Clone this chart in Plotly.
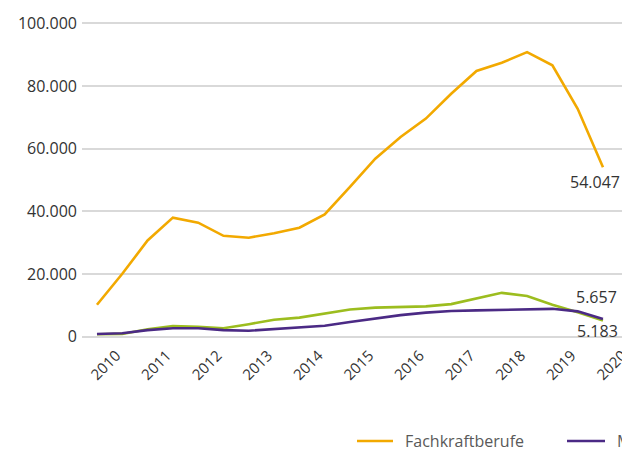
import plotly.graph_objects as go

# Halbjahreswerte, erster Punkt Mitte 2009, letzter Mitte 2019 (Achse 2010-2020)
perioden = [2009.5, 2010.0, 2010.5, 2011.0, 2011.5, 2012.0, 2012.5, 2013.0, 2013.5, 2014.0, 2014.5,
            2015.0, 2015.5, 2016.0, 2016.5, 2017.0, 2017.5, 2018.0, 2018.5, 2019.0, 2019.5]
jahre = [2010, 2011, 2012, 2013, 2014, 2015, 2016, 2017, 2018, 2019, 2020]

fachkraft = [10200, 20100, 30700, 38000, 36400, 32200, 31600, 33000, 34800, 39000, 47800,
             56800, 63700, 69600, 77500, 84800, 87400, 90800, 86600, 72700, 54047]
experten = [800, 900, 2400, 3400, 3200, 2700, 4000, 5400, 6100, 7300, 8700,
            9300, 9500, 9700, 10400, 12200, 14000, 13000, 10200, 7800, 5183]
meister = [850, 1100, 2100, 2700, 2700, 2100, 1900, 2400, 2900, 3500, 4700,
           5900, 6900, 7700, 8200, 8400, 8500, 8700, 8900, 8100, 5657]

namen = ["Fachkraftberufe", "Meister-/Technikerberufe", "Expertenberufe"]
farben = {"Fachkraftberufe": "#F2A900", "Meister-/Technikerberufe": "#4B2A85", "Expertenberufe": "#9CBD1F"}

fig = go.Figure()
fig.add_trace(go.Scatter(x=perioden, y=fachkraft, mode="lines", name=namen[0],
                         line=dict(color=farben[namen[0]], width=2.6), showlegend=False))
fig.add_trace(go.Scatter(x=perioden, y=experten, mode="lines", name=namen[2],
                         line=dict(color=farben[namen[2]], width=2.6), showlegend=False))
fig.add_trace(go.Scatter(x=perioden, y=meister, mode="lines", name=namen[1],
                         line=dict(color=farben[namen[1]], width=2.6), showlegend=False))


def fmt(v):
    return f"{v:,}".replace(",", ".")


# Endwerte beschriften
for serie, dx, dy in [(fachkraft, -8, -15), (meister, -6, 22), (experten, -5, -11)]:
    fig.add_annotation(x=perioden[-1], y=serie[-1], text=fmt(serie[-1]), showarrow=False,
                       xshift=dx, yshift=dy, font=dict(size=16, color="#333333"))

# Legende von Hand, weil sie rechts abgeschnitten ist
# (Seite hat 8px Rand, daher Figur 622x443 und Plot bei x=74..622)
for name, x0, x1 in [(namen[0], 357, 393), (namen[1], 567, 605)]:
    px0 = (x0 - 82) / 548
    px1 = (x1 - 82) / 548
    ly = (343 - 441) / 326
    fig.add_shape(type="line", xref="paper", yref="paper", x0=px0, x1=px1, y0=ly, y1=ly,
                  line=dict(color=farben[name], width=2.6))
    fig.add_annotation(xref="paper", yref="paper", x=px1 + 10 / 548, y=ly, xanchor="left",
                       yanchor="middle", text=name, showarrow=False,
                       font=dict(size=16, color="#595959"))

fig.update_layout(
    width=622, height=443,
    margin=dict(l=74, r=0, t=9, b=108),
    plot_bgcolor="white", paper_bgcolor="white",
    font=dict(family="Open Sans", size=16, color="#333333"),
    separators=",.",
    showlegend=False,
)
# Beschriftungen leicht nach links, wie im Original
fig.update_xaxes(range=[2009.204, 2020.034], tickmode="array",
                 tickvals=[j - 0.12 for j in jahre], ticktext=[str(j) for j in jahre],
                 tickangle=-45, showgrid=False, zeroline=False, showline=False,
                 ticklabeloverflow="allow", automargin=False,
                 tickfont=dict(size=15, color="#333333"))
fig.update_yaxes(range=[-2000, 102000], tickmode="linear", tick0=0, dtick=20000,
                 tickformat=",d", showgrid=True, gridcolor="#D9D9D9", gridwidth=2,
                 zeroline=False, showline=False, ticklabelstandoff=4, automargin=False,
                 tickfont=dict(size=16, color="#333333"))

fig.write_html("out.html")
